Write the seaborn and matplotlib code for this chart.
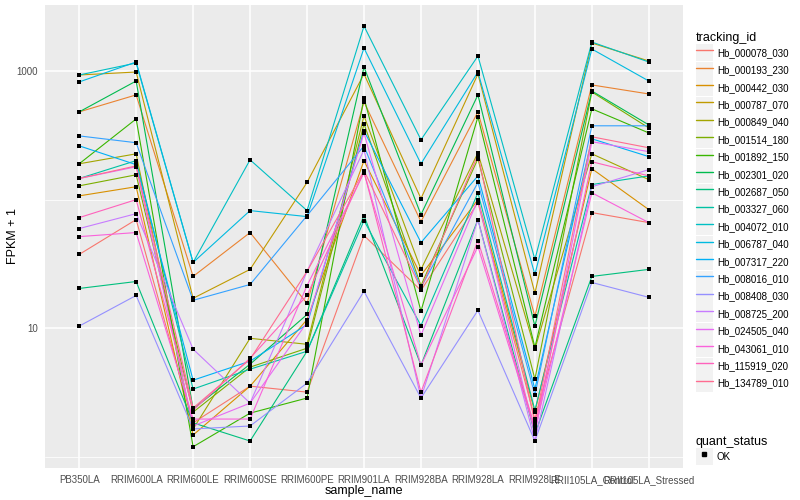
import matplotlib
matplotlib.use("Agg")
import matplotlib.pyplot as plt
from matplotlib.lines import Line2D
from matplotlib.patches import Rectangle
from matplotlib.ticker import FixedLocator, NullFormatter
import pandas as pd
import seaborn as sns

# x categories
samples = ["PB350LA", "RRIM600LA", "RRIM600LE", "RRIM600SE", "RRIM600PE", "RRIM901LA",
           "RRIM928BA", "RRIM928LA", "RRIM928LE", "RRII105LA_Control", "RRII105LA_Stressed"]

tracking_ids = ["Hb_000078_030", "Hb_000193_230", "Hb_000442_030", "Hb_000787_070",
                "Hb_000849_040", "Hb_001514_180", "Hb_001892_150", "Hb_002301_020",
                "Hb_002687_050", "Hb_003327_060", "Hb_004072_010", "Hb_006787_040",
                "Hb_007317_220", "Hb_008016_010", "Hb_008408_030", "Hb_008725_200",
                "Hb_024505_040", "Hb_043061_010", "Hb_115919_020", "Hb_134789_010"]

# FPKM + 1 per gene, one value per sample
hb_000078_030 = [37.5, 70.0, 1.84, 3.55, 3.19, 52.6, 19.7, 94.8, 1.97, 79.3, 66.3]
hb_000193_230 = [481, 652, 25.3, 55.5, 15.6, 575, 67.5, 481, 12.4, 779, 663]
hb_000442_030 = [107, 126, 1.48, 3.55, 11.7, 201, 25.8, 100, 2.23, 174, 83.6]
hb_000787_070 = [931, 982, 17.1, 28.7, 136, 948, 102, 948, 18.7, 1649, 1196]
hb_000849_040 = [190, 227, 1.65, 8.36, 7.51, 448, 28.7, 231, 6.88, 227, 143]
hb_001514_180 = [128, 156, 2.23, 4.99, 7.00, 388, 21.5, 208, 4.03, 687, 361]
hb_001892_150 = [190, 424, 1.20, 2.19, 2.87, 618, 13.6, 440, 7.12, 508, 330]
hb_002301_020 = [481, 836, 2.36, 5.26, 12.8, 1074, 76.5, 652, 10.4, 699, 381]
hb_002687_050 = [20.4, 23.1, 1.84, 1.33, 6.63, 75.1, 5.17, 70.0, 1.51, 25.3, 28.7]
hb_003327_060 = [146, 201, 3.37, 4.81, 6.63, 68.7, 10.5, 113, 2.31, 131, 153]
hb_004072_010 = [931, 1153, 32.5, 204, 82.2, 2234, 292, 1307, 34.3, 1678, 1175]
hb_006787_040 = [822, 1175, 32.5, 82.2, 73.8, 1507, 190, 982, 26.2, 1482, 836]
hb_007317_220 = [262, 187, 3.95, 5.55, 10.7, 343, 46.4, 153, 3.37, 297, 216]
hb_008016_010 = [313, 277, 16.5, 21.9, 75.1, 262, 20.8, 136, 3.03, 375, 375]
hb_008408_030 = [10.4, 18.0, 1.65, 1.74, 3.75, 19.4, 2.87, 13.8, 1.33, 22.7, 17.4]
hb_008725_200 = [59.6, 77.8, 6.88, 2.62, 27.7, 244, 2.87, 70.0, 1.33, 126, 171]
hb_024505_040 = [146, 180, 1.74, 2.62, 11.1, 330, 8.83, 100, 1.51, 282, 236]
hb_043061_010 = [51.6, 55.5, 1.97, 1.97, 21.5, 162, 5.17, 43.2, 1.62, 113, 66.3]
hb_115919_020 = [72.5, 100, 2.31, 5.85, 18.0, 165, 3.19, 48.1, 1.71, 197, 153]
hb_134789_010 = [146, 183, 2.40, 5.75, 27.7, 168, 20.4, 223, 1.84, 308, 253]

series = [hb_000078_030, hb_000193_230, hb_000442_030, hb_000787_070, hb_000849_040,
          hb_001514_180, hb_001892_150, hb_002301_020, hb_002687_050, hb_003327_060,
          hb_004072_010, hb_006787_040, hb_007317_220, hb_008016_010, hb_008408_030,
          hb_008725_200, hb_024505_040, hb_043061_010, hb_115919_020, hb_134789_010]

# ggplot default hue palette for 20 levels
colors = ["#F8766D", "#EA8331", "#D89000", "#C09B00", "#A3A500", "#7CAE00", "#39B600",
          "#00BB4E", "#00BF7D", "#00C1A3", "#00BFC4", "#00BAE0", "#00B0F6", "#35A2FF",
          "#9590FF", "#C77CFF", "#E76BF3", "#FA62DB", "#FF62BC", "#FF6C91"]

rows = []
for tid, vals in zip(tracking_ids, series):
    for s, v in zip(samples, vals):
        rows.append({"tracking_id": tid, "sample_name": s, "fpkm": v})
df = pd.DataFrame(rows)
df["x"] = df["sample_name"].map({s: i for i, s in enumerate(samples)})

sns.set_theme(style="darkgrid")
plt.rcParams["font.family"] = ["Liberation Sans", "DejaVu Sans"]

fig = plt.figure(figsize=(8, 5), dpi=100)
ax = fig.add_axes([45 / 800, 1 - 468 / 500, (683 - 45) / 800, (468 - 5) / 500])
ax.set_facecolor("#EBEBEB")

sns.lineplot(data=df, x="x", y="fpkm", hue="tracking_id", hue_order=tracking_ids,
             palette=colors, linewidth=0.8, legend=False, ax=ax, estimator=None,
             sort=True)
sns.scatterplot(data=df, x="x", y="fpkm", color="black", marker="s", s=9,
                linewidth=0, ax=ax, legend=False, zorder=5)

ax.set_yscale("log")
ax.set_ylim(10 ** -0.086, 10 ** 3.513)
ax.set_xlim(-0.6, len(samples) - 0.4)
ax.yaxis.set_major_locator(FixedLocator([10, 1000]))
ax.yaxis.set_minor_locator(FixedLocator([1, 100]))
ax.yaxis.set_minor_formatter(NullFormatter())
ax.set_yticklabels(["10", "1000"])
ax.set_xticks(range(len(samples)))
ax.set_xticklabels(samples)

ax.grid(which="major", color="white", linewidth=1.1)
ax.grid(which="minor", color="white", linewidth=0.55)
ax.grid(which="minor", axis="x", visible=False)
for sp in ax.spines.values():
    sp.set_visible(False)
ax.tick_params(which="major", length=3, width=0.6, color="#333333",
               labelsize=7, labelcolor="#4D4D4D", pad=2)
ax.tick_params(which="minor", length=0)
ax.set_xlabel("sample_name", fontsize=9, labelpad=0, color="black")
ax.set_ylabel("FPKM + 1", fontsize=9, labelpad=-2, color="black")

key_bg = "#F2F2F2"
handles = [(Rectangle((0, 0), 1, 1, facecolor=key_bg, edgecolor="none"),
            Line2D([], [], color=c, linewidth=1.0)) for c in colors]
leg_kw = dict(loc="upper left", frameon=False, fontsize=7, title_fontsize=9,
              handlelength=1.75, handleheight=2.3, labelspacing=0.05,
              handletextpad=0.4, borderaxespad=0, alignment="left",
              labelcolor="black")
leg1 = fig.legend(handles, tracking_ids, title="tracking_id",
                  bbox_to_anchor=(692 / 800, 1 - 28 / 500), **leg_kw)
ok_handle = (Rectangle((0, 0), 1, 1, facecolor=key_bg, edgecolor="none"),
             Line2D([], [], color="black", marker="s", markersize=2.5, linestyle="none"))
leg2 = fig.legend([ok_handle], ["OK"], title="quant_status",
                  bbox_to_anchor=(692 / 800, 1 - 432 / 500), **leg_kw)
for leg in (leg1, leg2):
    leg.get_title().set_color("black")

fig.savefig("out.png", dpi=100)
